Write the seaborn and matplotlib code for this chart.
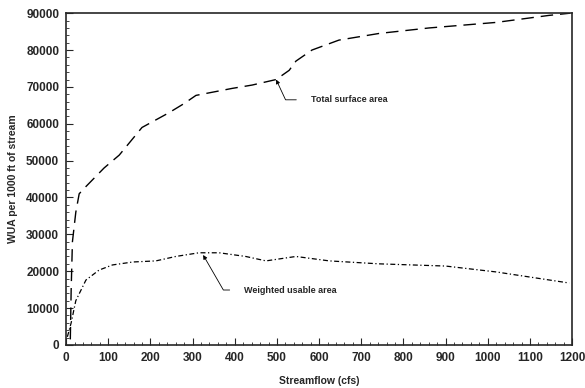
import pandas as pd
import seaborn as sns
import matplotlib.pyplot as plt
from matplotlib.ticker import MultipleLocator

# --- data ---
tsa_flow = [10, 12, 15, 23, 31, 43, 90, 126, 180, 244, 280, 308, 394, 441, 498,
            529, 545, 583, 647, 742, 861, 1020, 1145, 1195]
tsa_area = [1500, 15000, 28000, 36000, 41000, 42500, 48000, 51500, 59000, 63000,
            65500, 67700, 69600, 70500, 72000, 74500, 77000, 80000, 82700, 84500,
            86000, 87500, 89400, 90000]

wua_flow = [3, 12, 23, 47, 78, 110, 158, 213, 260, 315, 363, 426, 474, 545, 624,
            742, 900, 1020, 1193]
wua_area = [2200, 6000, 12000, 17600, 20300, 21700, 22500, 22800, 24000, 25000,
            25000, 24000, 22800, 24000, 22800, 22000, 21400, 19800, 16800]

x_ticks = [0, 100, 200, 300, 400, 500, 600, 700, 800, 900, 1000, 1100, 1200]
y_ticks = [0, 10000, 20000, 30000, 40000, 50000, 60000, 70000, 80000, 90000]

tsa_df = pd.DataFrame({'flow': tsa_flow, 'area': tsa_area})
wua_df = pd.DataFrame({'flow': wua_flow, 'area': wua_area})

sns.set_style('ticks')
plt.rcParams['font.family'] = ['Liberation Sans', 'DejaVu Sans']

fig = plt.figure(figsize=(5.85, 3.88), dpi=100)
ax = fig.add_axes([0.113, 0.111, 0.865, 0.855])

sns.lineplot(data=tsa_df, x='flow', y='area', ax=ax, color='black', lw=1.0,
             dashes=False, linestyle=(0, (9, 5)))
sns.lineplot(data=wua_df, x='flow', y='area', ax=ax, color='black', lw=0.9,
             dashes=False, linestyle=(0, (4, 2, 1, 2)))

ax.set_xlim(0, 1200)
ax.set_ylim(0, 90000)
ax.set_xticks(x_ticks)
ax.set_yticks(y_ticks)
ax.xaxis.set_minor_locator(MultipleLocator(20))
ax.yaxis.set_minor_locator(MultipleLocator(2000))
ax.tick_params(which='both', direction='in', labelsize=8.5)
ax.tick_params(which='major', length=5, pad=5)
ax.tick_params(which='minor', length=2.5)
for lbl in ax.get_xticklabels() + ax.get_yticklabels():
    lbl.set_fontweight('bold')
for s in ax.spines.values():
    s.set_linewidth(1.2)

ax.set_xlabel('Streamflow (cfs)', fontsize=7.5, fontweight='bold', labelpad=9)
ax.set_ylabel('WUA per 1000 ft of stream', fontsize=7.5, fontweight='bold', labelpad=6)

# callouts with elbow leaders
ax.annotate('Total surface area', xy=(498, 72000), xytext=(580, 66500),
            fontsize=6.5, fontweight='bold', va='center',
            arrowprops=dict(arrowstyle='-|>', color='black', lw=0.6,
                            connectionstyle='angle,angleA=0,angleB=-65,rad=0',
                            shrinkA=8, shrinkB=0, mutation_scale=6))
ax.annotate('Weighted usable area', xy=(325, 24400), xytext=(422, 14900),
            fontsize=6.5, fontweight='bold', va='center',
            arrowprops=dict(arrowstyle='-|>', color='black', lw=0.6,
                            connectionstyle='angle,angleA=0,angleB=-60,rad=0',
                            shrinkA=8, shrinkB=0, mutation_scale=6))

plt.savefig('out.png', dpi=100)
plt.close()
